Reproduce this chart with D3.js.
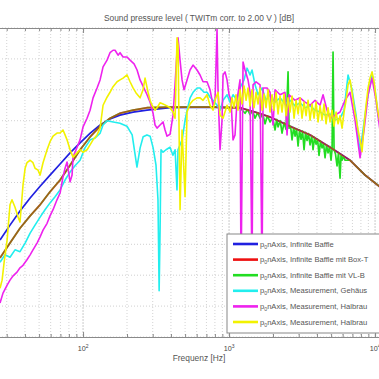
<!DOCTYPE html>
<html><head><meta charset="utf-8">
<script src="https://cdn.jsdelivr.net/npm/d3@7"></script>
<style>body{margin:0;background:#fff}svg{display:block}</style>
</head><body>
<svg id="c" width="379" height="379"></svg>
<script>
const titleText = "Sound pressure level ( TWITm corr. to 2.00 V ) [dB]";
const xLabelText = "Frequenz [Hz]";
const freqDomain = [20, 20000];
const dbDomain = [50, 100];
const dbTicks = [50, 55, 60, 65, 70, 75, 80, 85, 90, 95, 100];
const xMajorTicks = [100, 1000, 10000];
const xMajorExp = ["2", "3", "4"];
// legend labels as far as they are visible in the (cropped) reference
const legendLabels = [
  "nAxis, Infinite Baffle",
  "nAxis, Infinite Baffle mit Box-T",
  "nAxis, Infinite Baffle mit VL-B",
  "nAxis, Measurement, Gehäus",
  "nAxis, Measurement, Halbrau",
  "nAxis, Measurement, Halbrau"
];
const seriesColors = ["#2020e0", "#ee1010", "#22dd22", "#22eeee", "#ee22ee", "#f2f200"];

const infiniteBaffle = [[27,65.7],[31.6,68.1],[37,70.4],[43.4,72.5],[50.8,74.4],[59.4,76.2],[69.6,78.0],[81.5,79.8],[95.4,81.4],[112,83.0],[131,84.3],[153,85.3],[179,85.9],[220,86.4],[274,86.7],[394,87.1],[802,87.2],[1016,87.1],[1189,87.1],[1507,86.4],[1909,85.6],[2617,84.1],[3588,82.7],[4918,80.7],[6743,78.6],[8541,76.2],[10651,74.4],[13710,72.5]];

const baffleBoxT = [[27,62.8],[31.6,65.2],[37,67.6],[43.4,69.6],[50.8,71.4],[59.4,73.5],[69.6,75.4],[81.5,77.8],[95.4,80.3],[112,82.4],[131,84.1],[153,85.4],[179,86.2],[220,86.7],[274,87.1],[394,87.2],[802,87.2],[1016,87.1],[1189,87.1],[1507,86.4],[1909,85.6],[2617,84.1],[3588,82.7],[4918,80.7],[6743,78.6],[8541,76.2],[10651,74.4],[13710,72.5]];

const baffleVLB = [[27,62.8],[31.6,65.2],[37,67.6],[43.4,69.6],[50.8,71.4],[59.4,73.5],[69.6,75.4],[81.5,77.8],[95.4,80.3],[112,82.4],[131,84.1],[153,85.4],[179,86.2],[220,86.7],[274,87.1],[394,87.2],[802,87.2],[1016,87.1],[1189,87.1],[1287,86.2],[1340,86.8],[1393,86.0],[1450,86.6],[1507,85.4],[1570,86.3],[1631,85.4],[1700,86.1],[1765,84.5],[1830,85.8],[1909,84.8],[1990,85.5],[2066,83.5],[2120,85.2],[2166,84.0],[2240,85.0],[2307,83.0],[2380,84.7],[2457,83.6],[2536,92.9],[2576,83.8],[2640,84.1],[2701,81.9],[2770,83.9],[2833,82.5],[2900,83.7],[2970,80.9],[3040,83.5],[3113,82.0],[3190,83.3],[3264,80.3],[3340,83.1],[3422,81.8],[3500,82.9],[3588,81.1],[3680,82.6],[3761,80.3],[3850,82.3],[3944,81.2],[4040,82.0],[4134,79.4],[4230,81.7],[4335,80.6],[4440,81.3],[4545,79.0],[4650,81.1],[4765,79.8],[4880,80.8],[4995,78.6],[5080,80.5],[5156,96.1],[5238,80.3],[5360,79.6],[5492,77.7],[5620,79.8],[5758,75.7],[5850,79.5],[5943,78.6],[6080,79.2],[6230,78.6],[6743,78.6],[8541,76.2],[10651,74.4],[13710,72.5]];

const measGehaeuse = [[27,62.1],[29.2,63.3],[31.6,62.9],[34.2,64.1],[37,63.8],[40.1,65.2],[43.4,66.8],[46.9,68.1],[50.8,69.4],[54.9,70.6],[59.4,71.7],[64.3,72.7],[69.6,73.8],[75.3,75.4],[81.5,76.7],[88.1,77.7],[95.4,78.6],[103,80.6],[112,81.9],[121,82.2],[131,83.0],[137,84.3],[146,85.0],[161,84.8],[179,84.6],[200,84.1],[217,82.7],[234,77.5],[246,80.6],[258,82.4],[274,82.7],[288,82.5],[302,80.6],[316,77.8],[326,72.2],[332,57.5],[337,67.3],[342,80.3],[353,79.9],[370,80.3],[394,80.7],[413,79.4],[427,80.3],[440,73.8],[447,80.3],[477,81.9],[500,85.1],[516,86.7],[541,88.7],[567,89.6],[604,90.3],[633,90.3],[674,89.6],[707,89.6],[741,88.8],[777,88.3],[827,87.5],[868,86.7],[910,88.3],[969,89.2],[1016,88.0],[1065,89.2],[1134,88.3],[1189,90.3],[1267,91.6],[1328,93.5],[1393,92.4],[1437,93.2],[1507,90.8],[1580,89.2],[1683,90.3],[1792,88.3],[1909,89.2],[2066,88.0],[2235,88.7],[2418,87.7],[2617,88.3],[2833,87.4],[3065,87.9],[3315,87.1],[3588,87.4],[3882,86.7],[4201,86.4],[4545,85.9],[4918,86.1],[5321,85.1],[5758,85.4],[6133,86.7],[6532,92.4],[6959,90.0],[7413,85.9],[7894,79.9],[8274,83.5],[8816,88.3],[9539,92.4],[10000,90.0],[10484,85.9],[11710,81.9]];

const measHalbraum1 = [[27,55.5],[28.3,57.1],[30.2,58.4],[31.6,59.2],[33.2,59.9],[35.3,60.5],[37,61.2],[38.8,61.6],[41.3,62.5],[43.4,63.3],[45.4,64.1],[48.4,65.2],[50.8,66.2],[53.2,67.3],[56.7,68.4],[59.4,69.6],[62.3,70.6],[66.3,72.2],[69.6,73.3],[72.9,75.9],[75.3,77.3],[77.7,78.3],[81.5,75.1],[84.1,76.2],[85.4,79.1],[91,80.7],[95.4,81.9],[100,84.0],[106.5,85.4],[111.7,86.7],[117.1,88.7],[124.7,90.3],[130.8,91.6],[137.1,93.7],[146,94.8],[153,96.0],[160.5,96.4],[165.7,96.4],[173.7,95.6],[179.2,96.0],[187.9,95.3],[200.2,95.3],[209.9,94.8],[223.6,94.2],[234.4,93.2],[245.8,91.6],[257.6,90.6],[274.4,89.2],[287.7,88.0],[301.7,86.2],[311.4,84.3],[321.2,83.8],[336.9,84.3],[353.1,84.8],[364.5,83.5],[376.1,82.5],[394.4,82.8],[413.4,85.9],[426.7,90.8],[440.4,96.4],[447.4,98.4],[461.7,94.8],[476.5,91.6],[491.8,90.0],[515.6,91.6],[540.5,93.2],[566.7,94.0],[603.6,93.2],[632.9,92.4],[663.5,91.3],[706.6,91.3],[740.9,90.0],[776.8,87.5],[801.7,88.3],[827.4,99.8],[840.5,90.0],[867.5,80.3],[895.6,85.1],[909.5,92.4],[938.7,92.9],[968.9,91.6],[1000,89.2],[1032,88.3],[1065,81.9],[1099,82.7],[1134,88.3],[1189,91.6],[1208,59.2],[1247,94.5],[1287,93.2],[1349,91.6],[1393,89.6],[1437,59.2],[1460,90.8],[1531,91.3],[1631,90.8],[1683,59.2],[1710,90.3],[1821,90.3],[1909,89.6],[2001,84.3],[2066,90.0],[2235,89.2],[2418,89.6],[2496,82.7],[2576,89.2],[2833,88.3],[3065,88.7],[3315,88.0],[3588,87.5],[3882,88.3],[4201,87.5],[4404,89.2],[4690,86.7],[4918,85.4],[5321,85.9],[5758,86.4],[6230,88.3],[6743,89.6],[7296,85.1],[7894,79.0],[8410,83.5],[8959,89.2],[9539,91.9],[10159,88.3],[10797,83.5],[11710,81.1]];

const measHalbraum2 = [[27,57.9],[27.9,59.2],[28.8,62.1],[30.2,65.7],[31.6,71.4],[32.6,72.2],[34.2,71.0],[35.9,69.4],[37,68.6],[38.8,74.6],[40.1,77.3],[41.3,78.2],[43.4,78.6],[45.4,78.2],[46.9,77.3],[49.2,77.0],[50.8,76.2],[53.2,78.2],[56.7,80.3],[59.4,81.6],[62.3,82.5],[66.3,83.0],[69.6,83.0],[72.9,83.5],[75.3,82.7],[77.7,81.9],[81.5,80.3],[85.4,79.1],[91,79.8],[95.4,80.3],[100,79.9],[106.5,80.3],[111.7,81.1],[117.1,81.9],[124.7,82.7],[130.8,83.8],[137.1,87.5],[146,88.8],[153,89.6],[160.5,90.5],[171,91.3],[179.2,91.6],[187.9,91.9],[200.2,92.4],[209.9,91.3],[220,90.3],[230.7,89.5],[245.8,88.7],[257.6,90.0],[265.9,91.9],[278.7,89.6],[287.7,88.3],[296.9,87.5],[311.4,86.7],[321.2,87.1],[336.9,87.9],[353.1,87.7],[376.1,87.4],[394.4,87.1],[413.4,86.4],[426.7,85.4],[440.4,98.4],[447.4,97.2],[461.7,70.6],[476.5,83.5],[499.6,72.7],[515.6,86.4],[540.5,87.7],[566.7,88.3],[603.6,88.7],[632.9,88.7],[663.5,88.3],[706.6,89.2],[740.9,87.5],[776.8,86.7],[801.7,88.3],[840.5,89.6],[867.5,85.9],[909.5,85.4],[968.9,87.5],[1016,86.4],[1048,88.7],[1082,87.1],[1117,89.2],[1152,86.7],[1189,90.0],[1227,87.7],[1267,90.6],[1308,88.3],[1349,90.3],[1393,87.4],[1437,90.0],[1484,87.1],[1531,89.6],[1580,87.7],[1631,90.3],[1683,86.7],[1737,89.3],[1792,87.1],[1850,90.0],[1909,86.4],[1970,89.2],[2033,86.7],[2099,89.6],[2166,86.1],[2235,89.0],[2307,86.4],[2380,89.3],[2457,85.8],[2536,88.7],[2617,86.4],[2701,89.0],[2788,85.4],[2877,88.3],[2970,86.1],[3065,88.7],[3162,85.4],[3264,88.0],[3369,85.8],[3477,88.3],[3588,85.1],[3703,87.7],[3821,85.4],[3944,88.0],[4070,84.8],[4201,87.4],[4335,85.1],[4474,87.7],[4617,84.5],[4765,87.1],[4918,84.8],[5076,86.7],[5238,84.1],[5407,86.4],[5580,84.5],[5758,85.8],[5943,83.8],[6133,86.4],[6330,88.3],[6532,90.8],[6743,91.6],[6959,89.6],[7183,87.1],[7413,85.4],[7650,83.5],[7894,81.9],[8147,80.0],[8410,84.3],[8677,87.5],[8959,90.3],[9243,91.9],[9539,92.9],[9845,91.3],[10159,88.7],[10484,86.4],[10797,84.8],[11710,81.9]];

const seriesData = [infiniteBaffle, baffleBoxT, baffleVLB, measGehaeuse, measHalbraum1, measHalbraum2];
// drawing order: red model drawn semi-transparent over green so the shared curve looks brownish
const drawOrder = [0, 2, 1, 3, 4, 5];
const seriesWidths = [1.7, 1.9, 1.7, 1.6, 1.6, 1.6];
const seriesOpacity = [1, 0.6, 1, 1, 1, 1];

const svg = d3.select("#c");
const margin = {left: -19, top: 28};
const W = 438, H = 309;
const x = d3.scaleLog().domain(freqDomain).range([0, W]);
const y = d3.scaleLinear().domain(dbDomain).range([H, 0]);
const g = svg.append("g").attr("transform", `translate(${margin.left},${margin.top})`);

g.append("clipPath").attr("id", "clip").append("rect").attr("width", W).attr("height", H);

const gridTicks = x.ticks();
// grid
g.append("g").selectAll("line").data(gridTicks).join("line")
  .attr("x1", d => x(d)).attr("x2", d => x(d)).attr("y1", 0).attr("y2", H)
  .attr("stroke", d => xMajorTicks.includes(d) ? "#bdbdbd" : "#c8c8c8").attr("stroke-width", 0.8)
  .attr("stroke-dasharray", d => xMajorTicks.includes(d) ? "2,1" : "1,2");
g.append("g").selectAll("line").data(dbTicks).join("line")
  .attr("x1", 0).attr("x2", W).attr("y1", d => y(d)).attr("y2", d => y(d))
  .attr("stroke", "#c4c4c4").attr("stroke-width", 0.8).attr("stroke-dasharray", "1,2");

// series
const line = d3.line().x(d => x(d[0])).y(d => y(d[1]));
const lg = g.append("g").attr("clip-path", "url(#clip)");
drawOrder.forEach(i => {
  lg.append("path").datum(seriesData[i]).attr("d", line).attr("fill", "none")
    .attr("stroke", seriesColors[i]).attr("stroke-width", seriesWidths[i])
    .attr("stroke-opacity", seriesOpacity[i]).attr("stroke-linejoin", "round");
});

// axes
const axisColor = "#8a8a8a";
g.append("g").attr("transform", `translate(0,${H})`)
  .call(d3.axisBottom(x).tickValues(gridTicks).tickSizeInner(-3).tickSizeOuter(0).tickFormat(""));
g.append("g").attr("transform", `translate(0,${H})`)
  .call(d3.axisBottom(x).tickValues(xMajorTicks).tickSizeInner(-5).tickSizeOuter(0).tickFormat(""));
g.append("g").call(d3.axisTop(x).tickValues(gridTicks).tickSizeInner(-3).tickSizeOuter(0).tickFormat(""));
g.append("g").call(d3.axisTop(x).tickValues(xMajorTicks).tickSizeInner(-5).tickSizeOuter(0).tickFormat(""));
g.selectAll(".domain").attr("stroke", axisColor);
g.selectAll(".tick line").attr("stroke", axisColor);

const font = "Liberation Sans, Arial, sans-serif";
// tick labels
const lab = g.append("g").attr("font-family", font).attr("fill", "#444");
xMajorTicks.forEach((t, i) => {
  const tx = lab.append("text").attr("x", x(t)).attr("y", H + 14).attr("text-anchor", "middle").attr("font-size", 7.2);
  tx.append("tspan").text("10");
  tx.append("tspan").attr("dy", -3).attr("font-size", 5).text(xMajorExp[i]);
});

svg.append("text").attr("x", 199).attr("y", 21).attr("text-anchor", "middle")
  .attr("font-family", font).attr("font-size", 8.4).attr("fill", "#555").text(titleText);
svg.append("text").attr("x", 199).attr("y", 361).attr("text-anchor", "middle")
  .attr("font-family", font).attr("font-size", 8.4).attr("fill", "#555").text(xLabelText);

// legend (box continues past the right edge, as in the cropped reference)
const leg = svg.append("g").attr("transform", "translate(227,234)");
leg.append("rect").attr("width", 200).attr("height", 99).attr("fill", "#fff").attr("stroke", "#888").attr("stroke-width", 1);
legendLabels.forEach((t, i) => {
  const yy = 10 + i * 15.6;
  leg.append("line").attr("x1", 6).attr("x2", 31).attr("y1", yy).attr("y2", yy)
    .attr("stroke", seriesColors[i]).attr("stroke-width", 2.6);
  const tx = leg.append("text").attr("x", 33).attr("y", yy + 2.5)
    .attr("font-family", font).attr("font-size", 7.6).attr("fill", "#555");
  tx.append("tspan").text("p");
  tx.append("tspan").attr("dy", 2).attr("font-size", 5.2).text("0");
  tx.append("tspan").attr("dy", -2).text(t);
});
</script>
</body></html>
